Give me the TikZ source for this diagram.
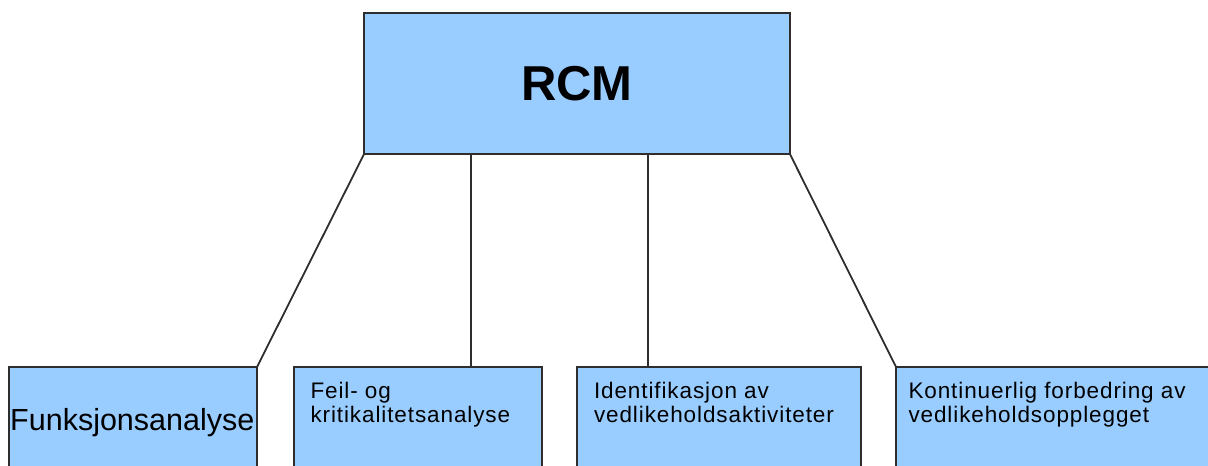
\documentclass[tikz,border=0pt]{standalone}
\usepackage{fontspec}
\setmainfont{Liberation Sans}
\newfontfamily\boxfont[LetterSpace=4]{Liberation Sans}
\definecolor{boxfill}{HTML}{99CCFF}
\definecolor{boxline}{HTML}{2E2E2E}
\tikzset{
  box/.style={draw=boxline, fill=boxfill, line width=1.8pt, rectangle,
              inner sep=0pt, outer sep=0pt, anchor=north west},
  link/.style={draw=boxline, line width=1.8pt},
  lbl/.style={anchor=base west, inner sep=0pt, outer sep=0pt,
              font=\boxfont\fontsize{22.5}{24.5}\selectfont, text=black}
}
\begin{document}
\begin{tikzpicture}[x=1pt, y=-1pt]
\useasboundingbox (0,0) rectangle (1208,466);
\clip (0,0) rectangle (1208,466);

% root box
\node[box, minimum width=426pt, minimum height=141.5pt] (top) at (364,12.7) {};
\node[anchor=base, inner sep=0pt, font=\bfseries\fontsize{49}{49}\selectfont]
  (rcm) at (577,100) {RCM};

% child boxes (they run past the lower edge)
\node[box, minimum width=248pt, minimum height=140pt] (b1) at (9,367) {};
\node[box, minimum width=248pt, minimum height=140pt] (b2) at (294,367) {};
\node[box, minimum width=284pt, minimum height=140pt] (b3) at (577,367) {};
\node[box, minimum width=360pt, minimum height=140pt] (b4) at (896,367) {};

% labels
\node[anchor=base west, inner sep=0pt, font=\fontsize{30.5}{32}\selectfont, text=black]
  (t1) at (10,430) {Funksjonsanalyse};
\node[lbl] (t2a) at (310.5,398) {Feil- og};
\node[lbl] (t2b) at (310.5,422.5) {kritikalitetsanalyse};
\node[lbl] (t3a) at (594,398) {Identifikasjon av};
\node[lbl] (t3b) at (594,422.5) {vedlikeholdsaktiviteter};
\node[lbl] (t4a) at (908.5,398) {Kontinuerlig forbedring av};
\node[lbl] (t4b) at (908.5,422.5) {vedlikeholdsopplegget};

% connectors
\coordinate (x2) at (470.7,0);
\coordinate (x3) at (648,0);
\draw[link] (top.south west) -- (b1.north east);
\draw[link] (top.south -| x2) -- (b2.north -| x2);
\draw[link] (top.south -| x3) -- (b3.north -| x3);
\draw[link] (top.south east) -- (b4.north west);
\end{tikzpicture}
\end{document}
